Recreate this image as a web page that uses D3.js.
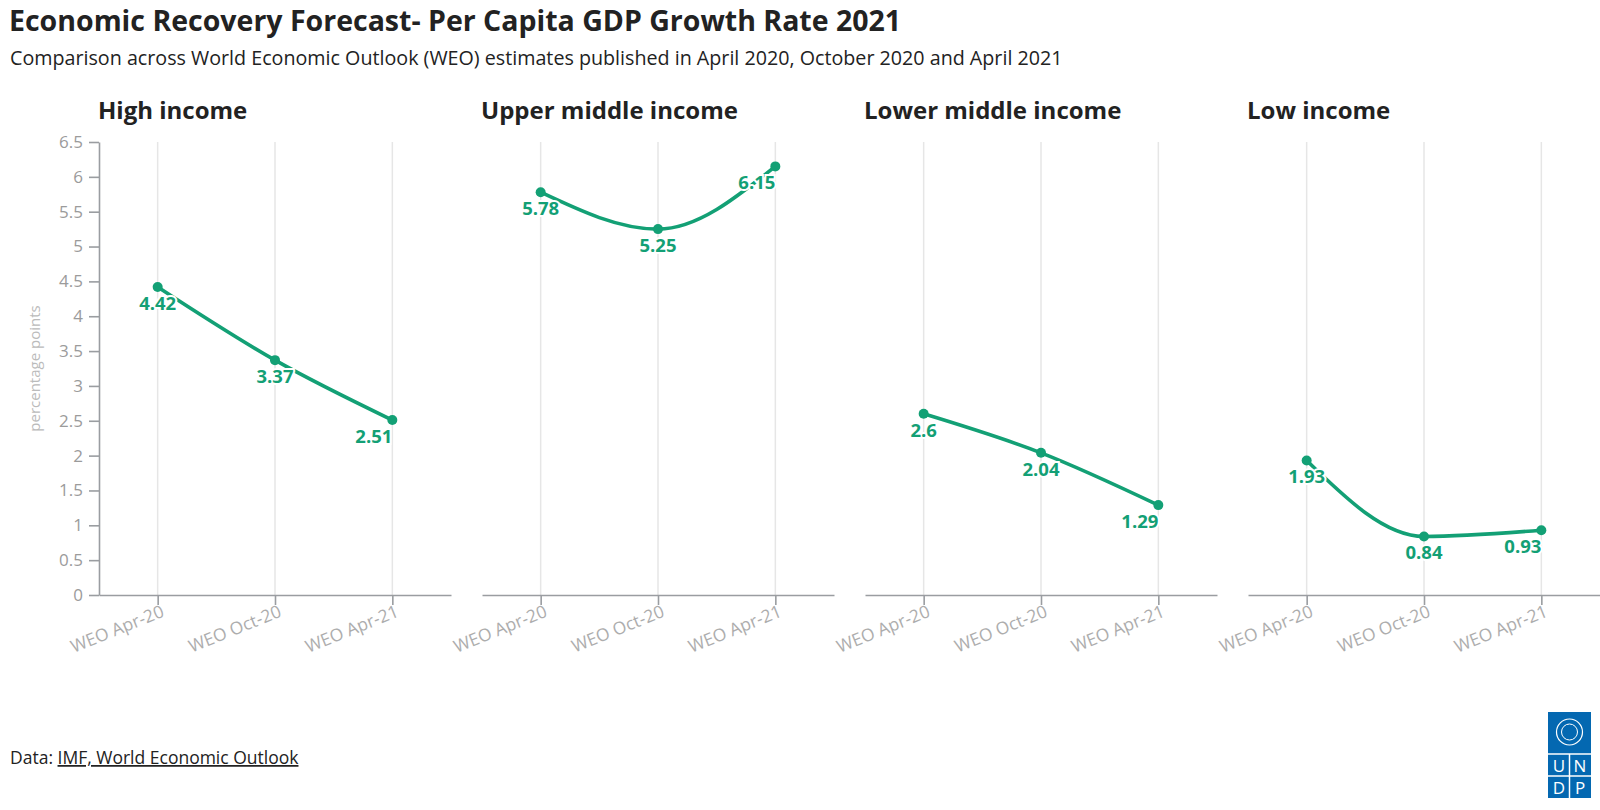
<!DOCTYPE html>
<html>
<head>
<meta charset="utf-8">
<script src="https://cdn.jsdelivr.net/npm/d3@7"></script>
<style>
  html, body { margin: 0; padding: 0; background: #fff; }
  svg { display: block; font-family: "Open Sans", "Lato", sans-serif; }
</style>
</head>
<body>
<svg id="chart" width="1600" height="810"></svg>
<script>
// Per capita GDP growth forecast 2021, by income group, three WEO vintages.
const editions = ["WEO Apr-20", "WEO Oct-20", "WEO Apr-21"];
const groups = ["High income", "Upper middle income", "Lower middle income", "Low income"];
const highIncome = [4.42, 3.37, 2.51];
const upperMiddle = [5.78, 5.25, 6.15];
const lowerMiddle = [2.6, 2.04, 1.29];
const lowIncome = [1.93, 0.84, 0.93];
const yTicks = [0, 0.5, 1, 1.5, 2, 2.5, 3, 3.5, 4, 4.5, 5, 5.5, 6, 6.5];

const series = [highIncome, upperMiddle, lowerMiddle, lowIncome];

const GREEN = "#13a075";
const svg = d3.select("#chart");

const margin = { top: 142, bottom: 595 };
const panelW = 352;
const panelGap = 383;
const firstLeft = 99;

const y = d3.scaleLinear().domain([0, 6.5]).range([margin.bottom, margin.top]);

// header
svg.append("text")
  .attr("x", 9).attr("y", 31)
  .attr("font-size", 28.5).attr("font-weight", 700).attr("fill", "#222")
  .text("Economic Recovery Forecast- Per Capita GDP Growth Rate 2021");

svg.append("text")
  .attr("x", 10).attr("y", 65)
  .attr("font-size", 19.7).attr("fill", "#222")
  .text("Comparison across World Economic Outlook (WEO) estimates published in April 2020, October 2020 and April 2021");

// y axis title
svg.append("text")
  .attr("transform", `translate(40,${(margin.top + margin.bottom) / 2}) rotate(-90)`)
  .attr("text-anchor", "middle")
  .attr("font-size", 15).attr("fill", "#bbb")
  .text("percentage points");

series.forEach((vals, i) => {
  const left = firstLeft + i * panelGap;
  const x = d3.scalePoint().domain(editions).range([left, left + panelW]).padding(0.5);
  const g = svg.append("g");

  // panel title
  g.append("text")
    .attr("x", left - 1).attr("y", 119)
    .attr("font-size", 24).attr("font-weight", 700).attr("fill", "#222")
    .text(groups[i]);

  // vertical gridlines
  g.selectAll("line.grid").data(editions).join("line")
    .attr("class", "grid")
    .attr("x1", (d) => x(d)).attr("x2", (d) => x(d))
    .attr("y1", margin.top).attr("y2", margin.bottom)
    .attr("stroke", "#e6e6e6").attr("stroke-width", 1.5);

  // x axis
  const xa = g.append("g")
    .attr("transform", `translate(0,${margin.bottom})`)
    .call(d3.axisBottom(x).tickSizeInner(10).tickSizeOuter(0))
    .attr("font-family", null).attr("font-size", null);
  xa.select(".domain").attr("stroke", "#9a9da1").attr("stroke-width", 1.6);
  xa.selectAll(".tick line").attr("stroke", "#9a9da1").attr("stroke-width", 1.6);
  xa.selectAll(".tick text")
    .attr("font-size", 17.5).attr("fill", "#adadad")
    .attr("text-anchor", "end")
    .attr("x", 0).attr("y", 0).attr("dy", null)
    .attr("transform", "translate(7,21) rotate(-22)");

  // y axis only on first panel
  if (i === 0) {
    const ya = g.append("g")
      .attr("transform", `translate(${left},0)`)
      .call(d3.axisLeft(y).tickValues(yTicks).tickFormat((d) => d).tickSize(10).tickPadding(6).tickSizeOuter(0))
      .attr("font-family", null).attr("font-size", null);
    ya.select(".domain").attr("stroke", "#9a9da1").attr("stroke-width", 1.6);
    ya.selectAll(".tick line").attr("stroke", "#9a9da1").attr("stroke-width", 1.6);
    ya.selectAll(".tick text")
      .attr("font-size", 17).attr("fill", "#9b9b9b");
  }

  // line
  const line = d3.line()
    .x((d, j) => x(editions[j]))
    .y((d) => y(d))
    .curve(d3.curveMonotoneX);

  g.append("path")
    .datum(vals)
    .attr("d", line)
    .attr("fill", "none")
    .attr("stroke", GREEN).attr("stroke-width", 3.6)
    .attr("stroke-linecap", "round");

  g.selectAll("circle").data(vals).join("circle")
    .attr("cx", (d, j) => x(editions[j]))
    .attr("cy", (d) => y(d))
    .attr("r", 5)
    .attr("fill", GREEN);

  // value labels with white halo
  g.selectAll("text.val").data(vals).join("text")
    .attr("class", "val")
    .attr("x", (d, j) => x(editions[j]))
    .attr("y", (d) => y(d) + 23)
    .attr("text-anchor", (d, j) => (j === editions.length - 1 ? "end" : "middle"))
    .attr("font-size", 18.5).attr("font-weight", 700)
    .attr("fill", GREEN)
    .attr("stroke", "#fff").attr("stroke-width", 4)
    .attr("paint-order", "stroke")
    .text((d) => d);
});

// footer
const foot = svg.append("text")
  .attr("x", 10).attr("y", 764)
  .attr("font-size", 17.5).attr("fill", "#222");
foot.append("tspan").text("Data: ");
foot.append("tspan").attr("text-decoration", "underline").text("IMF, World Economic Outlook");

// UNDP logo block
const logo = svg.append("g").attr("transform", "translate(1548,712)");
logo.append("rect").attr("width", 43).attr("height", 86).attr("fill", "#0468b1");
logo.append("circle").attr("cx", 21.5).attr("cy", 20).attr("r", 13)
  .attr("fill", "none").attr("stroke", "#fff").attr("stroke-width", 1.2);
logo.append("circle").attr("cx", 21.5).attr("cy", 20).attr("r", 8)
  .attr("fill", "none").attr("stroke", "#fff").attr("stroke-width", 1);
logo.append("line").attr("x1", 0).attr("x2", 43).attr("y1", 42).attr("y2", 42)
  .attr("stroke", "#fff").attr("stroke-width", 1.5);
logo.append("line").attr("x1", 0).attr("x2", 43).attr("y1", 64).attr("y2", 64)
  .attr("stroke", "#fff").attr("stroke-width", 1.5);
logo.append("line").attr("x1", 21.5).attr("x2", 21.5).attr("y1", 42).attr("y2", 86)
  .attr("stroke", "#fff").attr("stroke-width", 1.5);
[["U", 11, 60], ["N", 32, 60], ["D", 11, 82], ["P", 32, 82]].forEach(([t, lx, ly]) => {
  logo.append("text").attr("x", lx).attr("y", ly)
    .attr("text-anchor", "middle").attr("font-size", 17).attr("fill", "#fff")
    .text(t);
});
</script>
</body>
</html>
